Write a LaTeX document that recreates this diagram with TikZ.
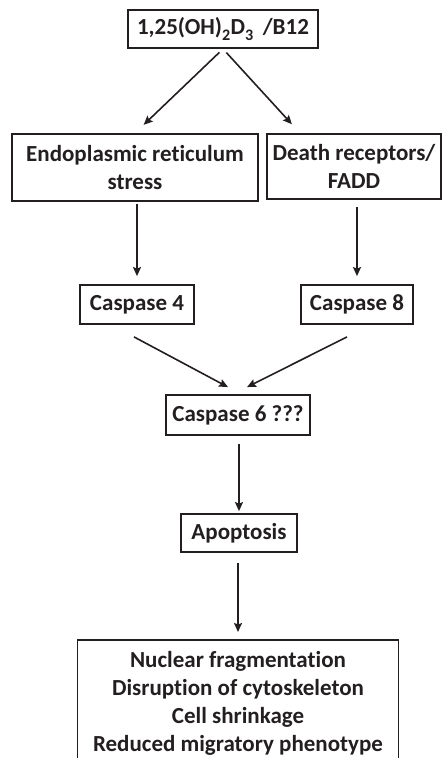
\documentclass[tikz,border=0pt]{standalone}
\usepackage{fontspec}
\setmainfont{Carlito}[Ligatures=NoCommon]
\usepackage{tikz}
\usetikzlibrary{arrows.meta,positioning}
\definecolor{inkline}{HTML}{231F20}
\tikzset{
  stepbox/.style={draw=inkline, line width=1.8pt, align=center, inner sep=2pt, font=\fontsize{23}{28}\selectfont\bfseries, text=inkline},
  arrow/.style={-{Stealth[length=9pt,width=8pt,inset=1.5pt]}, line width=1.6pt, draw=inkline}
}

\begin{document}
\begin{tikzpicture}[x=1pt,y=-1pt]
  \useasboundingbox (0,0) rectangle (442,758);

  \node[stepbox, minimum width=190pt, minimum height=38pt] (agent) at (223,29)
    {1,25(OH)\raisebox{-1.5pt}{\textsubscript{2}}D\raisebox{-1.5pt}{\textsubscript{3}}\hspace{9pt}/B12};

  \node[stepbox, minimum width=246pt, minimum height=67pt] (er) at (135,167.5)
    {Endoplasmic reticulum\\stress};
  \node[stepbox, minimum width=174pt, minimum height=65pt] (dr) at (354,166.5)
    {Death receptors/\\FADD};

  \node[stepbox, minimum width=114pt, minimum height=39pt] (casp4) at (137,304.5) {Caspase 4};
  \node[stepbox, minimum width=112pt, minimum height=39pt] (casp8) at (357,304.5) {Caspase 8};
  \node[stepbox, minimum width=144pt, minimum height=40pt] (casp6) at (238,415) {Caspase 6 ???};
  \node[stepbox, minimum width=116pt, minimum height=38pt] (apop) at (239,533) {Apoptosis};

  \node[stepbox, minimum width=321pt, anchor=north, inner ysep=9pt,
        minimum height=126pt] (effects) at (238,639)
    {Nuclear fragmentation\\Disruption of cytoskeleton\\Cell shrinkage\\Reduced migratory phenotype};

  % branches
  \draw[arrow, shorten <=5pt, shorten >=12pt] (agent.south) -- (er.north);
  \draw[arrow, shorten <=5pt, shorten >=12pt] (agent.south) -- ([xshift=-54pt]dr.north);
  \draw[arrow, shorten <=2pt, shorten >=8pt] (casp4.north |- er.south) -- (casp4.north);
  \draw[arrow, shorten <=7pt, shorten >=8pt] (casp8.north |- dr.south) -- (casp8.north);

  % convergence
  \draw[arrow] ([xshift=-3pt,yshift=-12pt]casp4.south) -- ([xshift=-10pt,yshift=7pt]casp6.north);
  \draw[arrow] ([xshift=-10pt,yshift=-12pt]casp8.south) -- ([xshift=9pt,yshift=7pt]casp6.north);
  \draw[arrow, shorten <=8pt, shorten >=2pt] (apop.north |- casp6.south) -- (apop.north);
  \draw[arrow, shorten <=10pt, shorten >=7pt] (effects.north |- apop.south) -- (effects.north);
\end{tikzpicture}
\end{document}
